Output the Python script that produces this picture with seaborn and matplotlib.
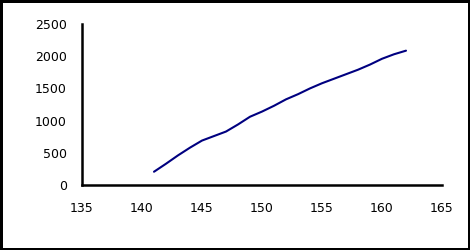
import matplotlib
matplotlib.use("Agg")
import matplotlib.pyplot as plt
import seaborn as sns
import pandas as pd

x_vals = [141, 142, 143, 144, 145, 146, 147, 148, 149, 150, 151,
          152, 153, 154, 155, 156, 157, 158, 159, 160, 161, 162]
y_vals = [206, 330, 460, 580, 690, 760, 830, 940, 1060, 1140, 1230,
          1330, 1410, 1500, 1580, 1650, 1720, 1790, 1870, 1960, 2030, 2086]
x_ticks = [135, 140, 145, 150, 155, 160, 165]
y_ticks = [0, 500, 1000, 1500, 2000, 2500]

df = pd.DataFrame({"x": x_vals, "y": y_vals})

sns.set_style("white")
plt.rcParams["font.family"] = ["DejaVu Sans"]

fig = plt.figure(figsize=(4.7, 2.5), dpi=100, linewidth=2.5, edgecolor="black")
ax = fig.add_axes([82 / 470, 65 / 250, 360 / 470, 161 / 250])

sns.lineplot(data=df, x="x", y="y", ax=ax, color="#000080", linewidth=1.5)

ax.set_xlim(135, 165)
ax.set_ylim(0, 2500)
ax.set_xticks(x_ticks)
ax.set_yticks(y_ticks)
ax.set_xlabel("")
ax.set_ylabel("")
for s in ["top", "right"]:
    ax.spines[s].set_visible(False)
for s in ["left", "bottom"]:
    ax.spines[s].set_color("black")
    ax.spines[s].set_linewidth(1.8)
ax.tick_params(axis="both", direction="out", length=5, width=1.5,
               color="black", labelsize=9, labelcolor="black")
ax.tick_params(axis="x", pad=7.5)
ax.tick_params(axis="y", pad=6)
ax.grid(False)

fig.savefig("out.png", dpi=100, edgecolor=fig.get_edgecolor())
